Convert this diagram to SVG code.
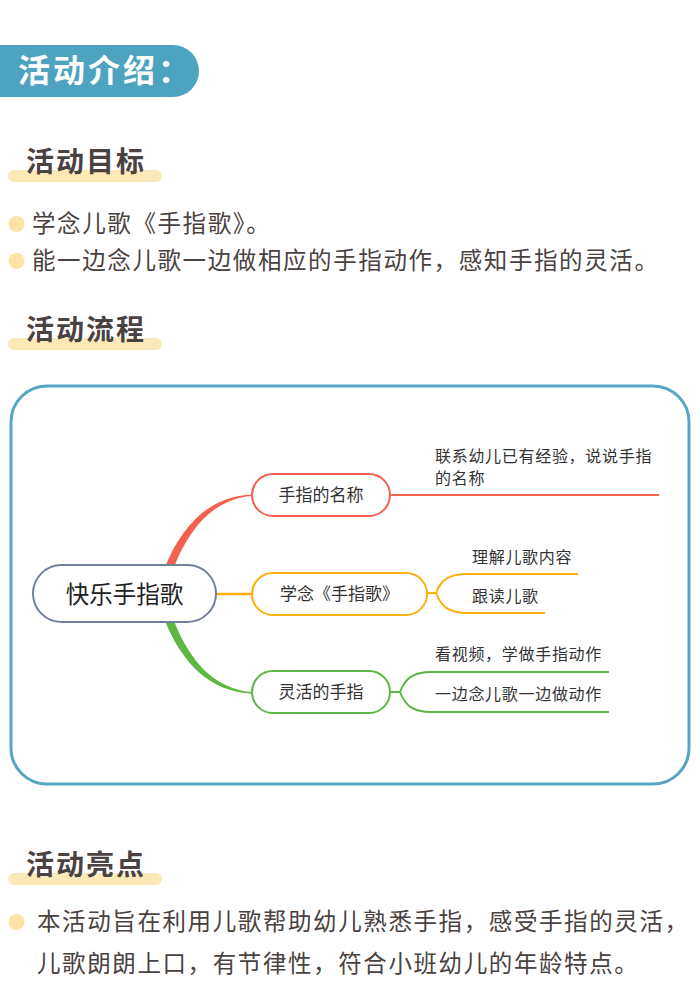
<svg xmlns="http://www.w3.org/2000/svg" width="700" height="1004" viewBox="0 0 700 1004">
<style>
.h{font-family:"Noto Sans CJK SC","Noto Sans",sans-serif;font-weight:bold;font-size:28px;letter-spacing:2px;fill:#4a4240}
.bar{fill:#fde9b8}
.dot{fill:#fde3a6}
.b{font-family:"Noto Sans CJK SC","Noto Sans",sans-serif;font-size:23.5px;letter-spacing:1.6px;fill:#4a4240}
.n{font-family:"Noto Sans CJK SC","Noto Sans",sans-serif;font-size:17px;fill:#333;text-anchor:middle}
.s{font-family:"Noto Sans CJK SC","Noto Sans",sans-serif;font-size:16px;letter-spacing:0.7px;fill:#333}
.node{fill:#fff;stroke-width:2}
</style>
<rect x="0" y="0" width="700" height="1004" fill="#fff"/>
<g id="title">
<rect x="-40" y="45" width="239" height="52" rx="26" fill="#4ea3c1"/>
<text x="18" y="82" font-family="Noto Sans CJK SC,Noto Sans,sans-serif" font-weight="bold" font-size="32" letter-spacing="3" fill="#fff">活动介绍：</text>
</g>
<g id="sec1">
<rect class="bar" x="8" y="170" width="154" height="12" rx="6"/>
<text class="h" x="26" y="172">活动目标</text>
<circle class="dot" cx="16.5" cy="224" r="8"/>
<text class="b" x="32" y="232">学念儿歌《手指歌》。</text>
<circle class="dot" cx="16.5" cy="261" r="8"/>
<text class="b" x="32" y="269">能一边念儿歌一边做相应的手指动作，感知手指的灵活。</text>
</g>
<g id="sec2">
<rect class="bar" x="8" y="338" width="154" height="12" rx="6"/>
<text class="h" x="26" y="340">活动流程</text>
</g>
<rect x="11" y="386" width="678" height="398" rx="36" fill="none" stroke="#57a5c3" stroke-width="3"/>
<g id="connectors" fill="none">
<path d="M165 567 C182 525 210 496 252 494.5 L252 496 C214 499 190 527 174 567 Z" fill="#f4614f"/>
<path d="M165 621 C182 663 210 692 252 693.5 L252 692 C214 689 190 661 174 621 Z" fill="#5db843"/>
<line x1="216" y1="594" x2="252" y2="594" stroke="#fdb00d" stroke-width="2.5"/>
<line x1="390" y1="495" x2="659" y2="495" stroke="#f4614f" stroke-width="2"/>
<path d="M427 593 H436 C441 580 448 574 468 574 H578 M436 593 C441 606 448 613 468 613 H545" stroke="#fdb00d" stroke-width="2"/>
<path d="M390 692 H400 C405 679 412 672 432 672 H609 M400 692 C405 705 412 712 432 712 H609" stroke="#5db843" stroke-width="2"/>
</g>
<g id="central">
<rect class="node" x="33" y="565" width="183" height="57" rx="28.5" stroke="#71809a"/>
<text x="124.5" y="603" font-family="Noto Sans CJK SC,Noto Sans,sans-serif" font-size="23.5" fill="#222" text-anchor="middle">快乐手指歌</text>
</g>
<g id="n1">
<rect class="node" x="252" y="474" width="138" height="42" rx="21" stroke="#f4614f"/>
<text class="n" x="321" y="501">手指的名称</text>
</g>
<g id="n2">
<rect class="node" x="252" y="573" width="175" height="42" rx="21" stroke="#fdb00d"/>
<text class="n" x="339.5" y="600">学念《手指歌》</text>
</g>
<g id="n3">
<rect class="node" x="252" y="671" width="138" height="42" rx="21" stroke="#5db843"/>
<text class="n" x="321" y="698">灵活的手指</text>
</g>
<g id="leaves">
<text class="s" x="435" y="462">联系幼儿已有经验，说说手指</text>
<text class="s" x="435" y="484">的名称</text>
<text class="s" x="472" y="563">理解儿歌内容</text>
<text class="s" x="472" y="602">跟读儿歌</text>
<text class="s" x="435" y="660">看视频，学做手指动作</text>
<text class="s" x="435" y="700">一边念儿歌一边做动作</text>
</g>
<g id="sec3">
<rect class="bar" x="8" y="873" width="154" height="12" rx="6"/>
<text class="h" x="26" y="875">活动亮点</text>
<circle class="dot" cx="16.5" cy="922" r="8"/>
<text class="b" x="37" y="930">本活动旨在利用儿歌帮助幼儿熟悉手指，感受手指的灵活，</text>
<text class="b" x="37" y="972">儿歌朗朗上口，有节律性，符合小班幼儿的年龄特点。</text>
</g>
</svg>
